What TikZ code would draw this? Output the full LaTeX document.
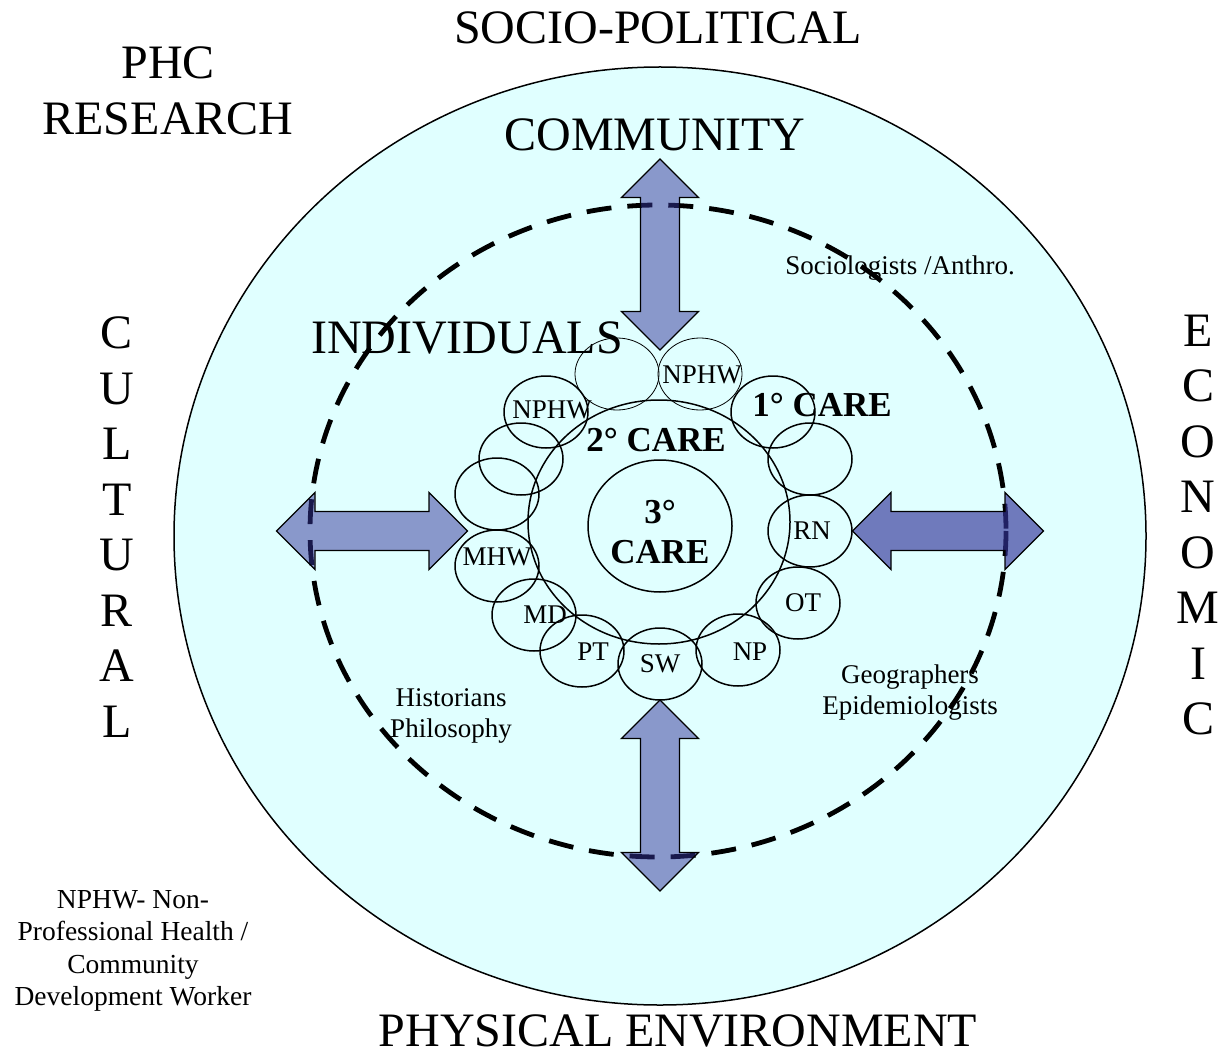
\documentclass[tikz,border=0pt]{standalone}
\usepackage{fontspec}
\setmainfont{Liberation Serif}
\usetikzlibrary{shapes.geometric}

\definecolor{bgcyan}{RGB}{224,255,255}
\definecolor{arrowblue}{RGB}{51,51,153}

\tikzset{
  ring/.style={draw, ellipse, line width=1.5pt, minimum width=84pt, minimum height=72pt, inner sep=0pt},
  thinring/.style={ring, line width=0.8pt},
  bigtext/.style={font=\fontsize{48}{55.5}\selectfont, align=center, inner sep=0pt},
  smalltext/.style={font=\fontsize{27}{31}\selectfont, align=center, inner sep=0pt},
  caretext/.style={font=\bfseries\fontsize{35}{40}\selectfont, align=center, inner sep=0pt},
  arrowbox/.style={draw=black, line width=1.3pt, fill=arrowblue, fill opacity=0.5},
  pics/carearrow/.style={code={
    \draw[arrowbox,#1] (-95.5,0) -- (-57,38.5) -- (-57,19.5) -- (57,19.5)
      -- (57,38.5) -- (95.5,0) -- (57,-38.5) -- (57,-19.5) -- (-57,-19.5)
      -- (-57,-38.5) -- cycle;
  }},
  pics/carearrow/.default={},
}

\begin{document}
\begin{tikzpicture}[x=1pt,y=-1pt]
        \useasboundingbox (0,0) rectangle (1231,1059);

        % Outer research field
        \node[draw, ellipse, line width=1.5pt, fill=bgcyan, minimum width=972pt, minimum height=938pt] (field) at (660,536) {};

        % Labels around the field
        \node[bigtext] (socio) at (658,28) {SOCIO-POLITICAL};
        \node[bigtext] (phc) at (168,91) {PHC\\RESEARCH};
        \node[bigtext] (community) at (655,135) {COMMUNITY};
        \node[bigtext] (cultural) at (117,527) {C\\U\\L\\T\\U\\R\\A\\L};
        \node[bigtext] (economic) at (1198,525) {E\\C\\O\\N\\O\\M\\I\\C};
        \node[bigtext] (physical) at (678,1031) {PHYSICAL ENVIRONMENT};
        \node[bigtext] (individuals) at (467,338) {INDIVIDUALS};

        % Disciplines
        \node[smalltext] (socio2) at (900,268) {Sociologists /Anthro.};
        \node[smalltext] (geo) at (910,693) {Geographers\\Epidemiologists};
        \node[smalltext] (hist) at (451,716) {Historians\\Philosophy};
        \node[smalltext, font=\fontsize{27.5}{32.5}\selectfont] (legend) at (133,951) {NPHW- Non-\\Professional Health /\\Community\\Development Worker};

        % Dashed boundary
        \draw[line width=4.8pt, dash pattern=on 25pt off 16pt] (658,531) ellipse [x radius=348, y radius=326];

        % Levels of care
        \node[draw, ellipse, line width=1.5pt, minimum width=262pt, minimum height=244pt] (second) at (659,522) {};
        \node[draw, ellipse, line width=1.5pt, minimum width=144pt, minimum height=132pt] (third) at (660,526) {};
        \node[caretext] (thirdtext) at (660,532) {3°\\CARE};
        \node[caretext] (secondtext) at (656,440) {2° CARE};
        \node[caretext] (firsttext) at (822,405) {1° CARE};

        % Ring of providers
        \node[thinring] (p1) at (617,374) {};
        \node[thinring] (p2) at (700,374) {};
        \foreach \n/\x/\y in {p3/773/412, p4/810/459, p5/810/531, p6/798/603, p7/738/650,
                              p8/660/664, p9/582/651, p10/534/615, p11/497/566, p12/497/494,
                              p13/521/459, p14/546/412} {
            \node[ring] (\n) at (\x,\y) {};
        }
        \foreach \n/\x/\y/\t in {l2/702/375/NPHW, l14/552/410/NPHW, l5/812/531/RN, l11/497/557/MHW,
                                 l6/803/603/OT, l10/545/615/MD, l9/593/652/PT, l8/660/664/SW,
                                 l7/750/652/NP} {
            \node[smalltext] (\n) at (\x,\y) {\t};
        }

        % Two-way arrows
        \pic[rotate=90] (uparrow) at (660,254.5) {carearrow};
        \pic[rotate=90] (downarrow) at (660,795.5) {carearrow};
        \pic (leftarrow) at (372,531) {carearrow};
        \pic (rightarrow) at (948,531) {carearrow={fill opacity=0.65}};
\end{tikzpicture}
\end{document}
